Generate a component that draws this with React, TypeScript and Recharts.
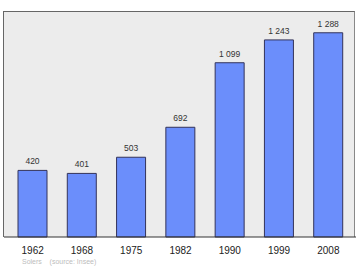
import { BarChart, Bar, XAxis, YAxis, LabelList } from 'recharts';

const years = ['1962', '1968', '1975', '1982', '1990', '1999', '2008'];
const population = [420, 401, 503, 692, 1099, 1243, 1288];

const data = years.map((year, i) => ({ year, value: population[i] }));

// thin (non-breaking) space as thousands separator, like the source
const fmt = (v: number) => String(v).replace(/\B(?=(\d{3})+(?!\d))/g, '\u00a0');

export default function App() {
    return (
        <div style={{ position: 'absolute', left: 0, top: 0, width: 360, height: 270, background: '#fff', fontFamily: 'Liberation Sans, Arial, sans-serif' }}>
            {/* plot frame */}
            <div style={{ position: 'absolute', left: 3, top: 11, width: 352, height: 226, background: '#ececec', borderLeft: '1.5px solid #666', borderTop: '1.5px solid #666', borderRight: '1px solid #888', boxSizing: 'border-box' }} />
            <div style={{ position: 'absolute', left: 0, top: 0 }}>
                <BarChart width={360} height={270} data={data} margin={{ top: 12, right: 4, bottom: 0, left: 4 }} barSize={29}>
                    <XAxis
                        dataKey="year"
                        height={33}
                        padding={{ left: 4, right: 3 }}
                        tickLine={false}
                        axisLine={{ stroke: '#333', strokeWidth: 1 }}
                        tick={{ fill: '#222', fontSize: 10 }}
                        tickMargin={4}
                        interval={0}
                    />
                    <YAxis hide domain={[0, 1419]} />
                    <Bar dataKey="value" fill="#6b8efb" stroke="#33335a" strokeWidth={1} isAnimationActive={false}>
                        <LabelList dataKey="value" position="top" offset={6} formatter={(v: any) => fmt(Number(v))} style={{ fill: '#333', fontSize: 8.5 }} />
                    </Bar>
                </BarChart>
            </div>
            <div style={{ position: 'absolute', left: 22, top: 258, fontSize: 7, color: '#bdbdbd', whiteSpace: 'pre' }}>
                {'Solers    (source: Insee)'}
            </div>
        </div>
    );
}
